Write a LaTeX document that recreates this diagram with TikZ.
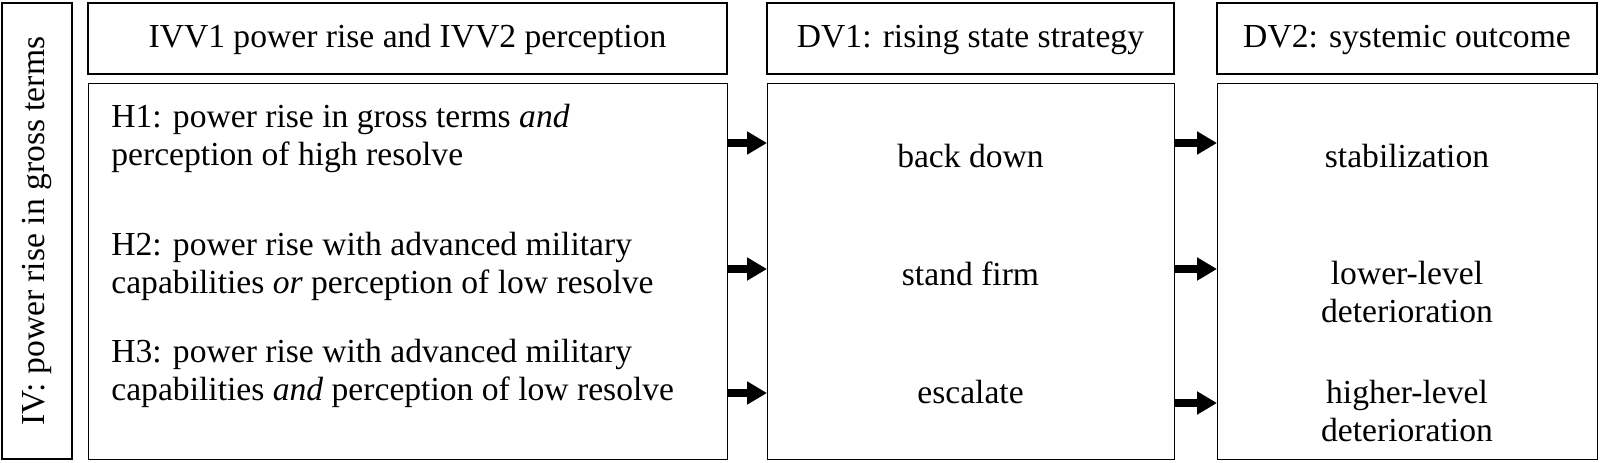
\documentclass[tikz,border=0pt]{standalone}
\usepackage{fontspec}
\setmainfont{Liberation Serif}
\usetikzlibrary{arrows.meta, positioning}

\begin{document}
\begin{tikzpicture}[x=0.5pt, y=-0.5pt]
	\tikzset{box/.style={draw, line width=0.7pt, inner sep=0pt},
		txt/.style={inner sep=0pt, font=\fontsize{16.8pt}{19pt}\selectfont},
		arr/.style={-{Triangle[width=11pt, length=10pt]}, line width=4pt}}
	\useasboundingbox (0,0) rectangle (1600,462);

	% frames
	\draw[box] (2,3) rectangle (72,459);
	\draw[box] (88,3) rectangle (727,74);
	\draw[box] (767,3) rectangle (1174,74);
	\draw[box] (1217,3) rectangle (1597,74);
	\node[box, minimum width=319.5pt, minimum height=188pt, anchor=north west] (hyp) at (88,83) {};
	\node[box, minimum width=203.5pt, minimum height=188pt, anchor=north west] (strat) at (767,83) {};
	\node[box, minimum width=190pt, minimum height=188pt, anchor=north west] (out) at (1217,83) {};

	% titles
	\node[txt, rotate=90] (iv) at (37,231) {IV: power rise in gross terms};
	\node[txt, anchor=base] (t1) at (407.5,47) {IVV1 power rise and IVV2 perception};
	\node[txt, anchor=base] (t2) at (970.5,47) {DV1: rising state strategy};
	\node[txt, anchor=base] (t3) at (1407,47) {DV2: systemic outcome};

	% hypotheses
	\node[txt, anchor=north west, align=left] (h1) at (111,104) {H1: power rise in gross terms \emph{and}\\perception of high resolve};
	\node[txt, anchor=north west, align=left] (h2) at (111,232) {H2: power rise with advanced military\\capabilities \emph{or} perception of low resolve};
	\node[txt, anchor=north west, align=left] (h3) at (111,339) {H3: power rise with advanced military\\capabilities \emph{and} perception of low resolve};

	% strategies and outcomes
	\node[txt, anchor=base] (s1) at (970.5,167) {back down};
	\node[txt, anchor=base] (s2) at (970.5,285) {stand firm};
	\node[txt, anchor=base] (s3) at (970.5,403) {escalate};
	\node[txt, anchor=base] (o1) at (1407,167) {stabilization};
	\node[txt, anchor=north, align=center] (o2) at (1407,261) {lower-level\\deterioration};
	\node[txt, anchor=north, align=center] (o3) at (1407,380) {higher-level\\deterioration};

	\coordinate (y1) at (0,143);
	\coordinate (y2) at (0,269);
	\coordinate (y3) at (0,393);
	\coordinate (z3) at (0,403);
	\draw[arr] (hyp.east |- y1) -- (strat.west |- y1);
	\draw[arr] (hyp.east |- y2) -- (strat.west |- y2);
	\draw[arr] (hyp.east |- y3) -- (strat.west |- y3);
	\draw[arr] (strat.east |- y1) -- (out.west |- y1);
	\draw[arr] (strat.east |- y2) -- (out.west |- y2);
	\draw[arr] (strat.east |- z3) -- (out.west |- z3);
\end{tikzpicture}
\end{document}
